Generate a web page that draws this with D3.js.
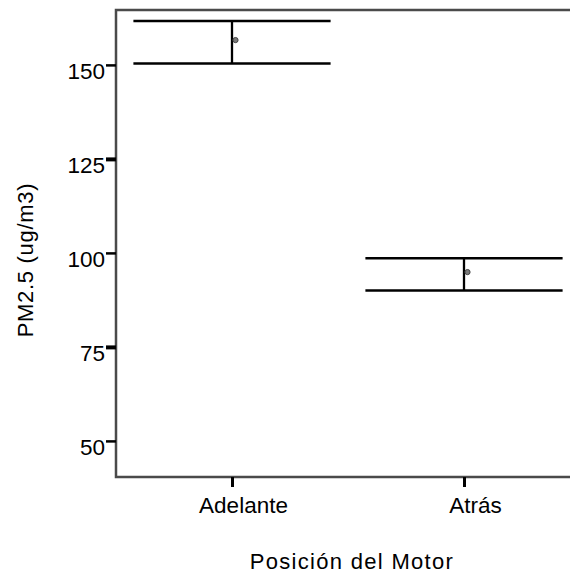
<!DOCTYPE html>
<html>
<head>
<meta charset="utf-8">
<script src="https://cdn.jsdelivr.net/npm/d3@7"></script>
<style>
  body { margin: 0; background: #fff; }
  svg { display: block; font-family: "Liberation Sans", Arial, sans-serif; }
</style>
</head>
<body>
<div id="chart"></div>
<script>
// Mean PM2.5 with error bars, by engine position
const categories = ['Adelante', 'Atrás'];
const means = [156.6, 94.9];
const upper = [161.7, 98.6];
const lower = [150.4, 90.0];
const yTicks = [50, 75, 100, 125, 150];

const width = 570, height = 576;
const plot = { left: 116, right: 580, top: 10, bottom: 477 };

const svg = d3.select('#chart')
  .append('svg')
  .attr('width', width)
  .attr('height', height);

const x = d3.scalePoint()
  .domain(categories)
  .range([plot.left, plot.right])
  .padding(0.5);

const y = d3.scaleLinear()
  .domain([40.4, 164.6])
  .range([plot.bottom, plot.top]);

const step = x.step();
const capHalf = step * 0.425;

// Frame: top, left, bottom
svg.append('path')
  .attr('d', `M${plot.right},${plot.top}H${plot.left}V${plot.bottom}H${plot.right}`)
  .attr('fill', 'none')
  .attr('stroke', '#4a4a4a')
  .attr('stroke-width', 2.5);

// Y axis
const yAxis = svg.append('g')
  .attr('transform', `translate(${plot.left},0)`)
  .call(d3.axisLeft(y).tickValues(yTicks).tickSize(10).tickSizeOuter(0));
yAxis.select('.domain').remove();
yAxis.selectAll('.tick line')
  .attr('stroke', '#000')
  .attr('stroke-width', d => (d === 125 || d === 75) ? 4 : 2.5);
yAxis.selectAll('.tick text')
  .attr('fill', '#000')
  .attr('font-size', 22.5)
  .attr('dy', 14)
  .attr('x', -11);

// X axis
const xAxis = svg.append('g')
  .attr('transform', `translate(0,${plot.bottom})`)
  .call(d3.axisBottom(x).tickSize(10).tickSizeOuter(0));
xAxis.select('.domain').remove();
xAxis.selectAll('.tick line')
  .attr('stroke', '#000')
  .attr('stroke-width', 3);
xAxis.selectAll('.tick text')
  .attr('fill', '#000')
  .attr('font-size', 22.5)
  .attr('dy', null)
  .attr('y', 36)
  .attr('x', 11);

// Error bars
const bars = svg.append('g')
  .selectAll('g')
  .data(categories)
  .join('g');

bars.append('line')
  .attr('x1', d => x(d)).attr('x2', d => x(d))
  .attr('y1', (d, i) => y(upper[i])).attr('y2', (d, i) => y(lower[i]))
  .attr('stroke', '#000').attr('stroke-width', 2.3);

bars.append('line')
  .attr('x1', d => x(d) - capHalf).attr('x2', d => x(d) + capHalf)
  .attr('y1', (d, i) => y(upper[i])).attr('y2', (d, i) => y(upper[i]))
  .attr('stroke', '#000').attr('stroke-width', 2.5);

bars.append('line')
  .attr('x1', d => x(d) - capHalf).attr('x2', d => x(d) + capHalf)
  .attr('y1', (d, i) => y(lower[i])).attr('y2', (d, i) => y(lower[i]))
  .attr('stroke', '#000').attr('stroke-width', 2.5);

// Mean markers
bars.append('circle')
  .attr('cx', d => x(d) + 3.5)
  .attr('cy', (d, i) => y(means[i]))
  .attr('r', 2.6)
  .attr('fill', '#7a7a7a')
  .attr('stroke', '#444')
  .attr('stroke-width', 1);

// Axis titles
svg.append('text')
  .attr('x', 352)
  .attr('y', 569)
  .attr('text-anchor', 'middle')
  .attr('font-size', 22)
  .attr('letter-spacing', 1.3)
  .text('Posición del Motor');

svg.append('text')
  .attr('transform', 'translate(33,260) rotate(-90)')
  .attr('text-anchor', 'middle')
  .attr('font-size', 22)
  .attr('letter-spacing', 0.7)
  .text('PM2.5 (ug/m3)');
</script>
</body>
</html>
